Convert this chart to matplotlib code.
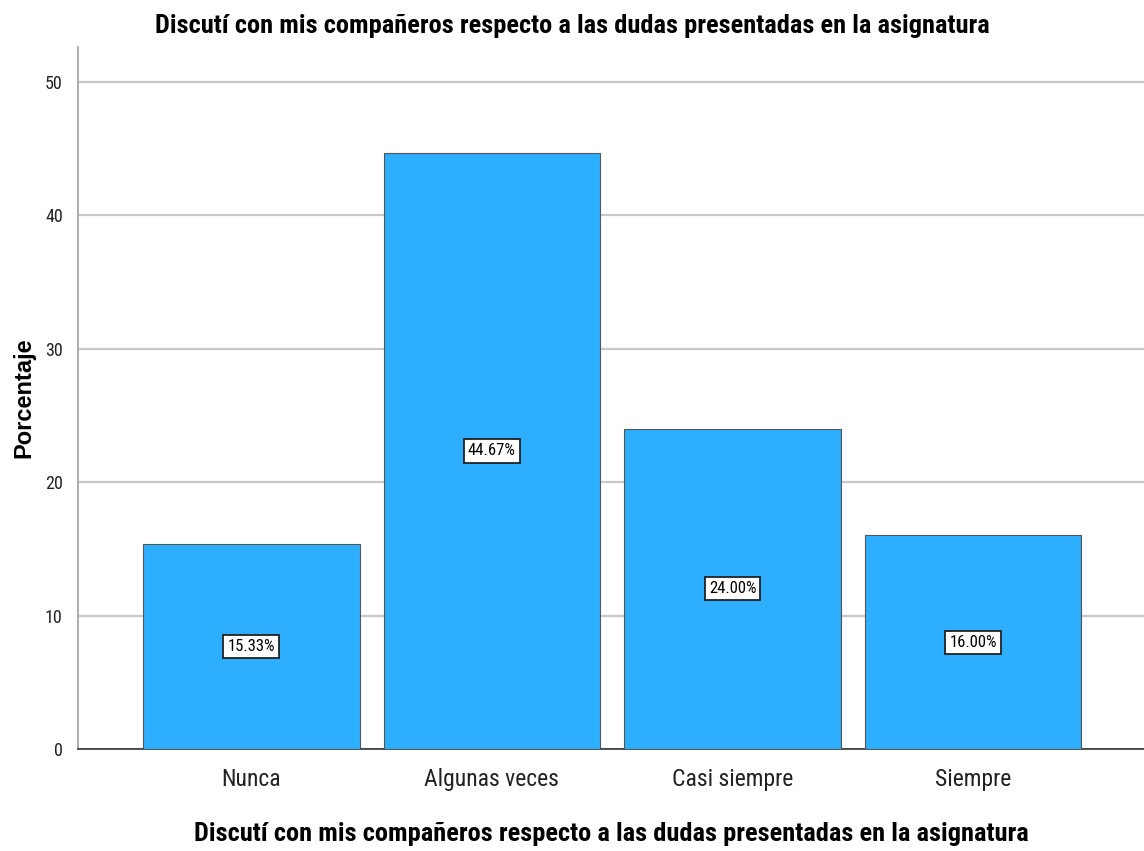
import matplotlib
matplotlib.use("Agg")
import matplotlib.pyplot as plt

# datos
categorias = ["Nunca", "Algunas veces", "Casi siempre", "Siempre"]
porcentajes = [15.33, 44.67, 24.00, 16.00]
etiquetas = ["15.33%", "44.67%", "24.00%", "16.00%"]
yticks = [0, 10, 20, 30, 40, 50]

titulo = "Discutí con mis compañeros respecto a las dudas presentadas en la asignatura"

narrow = ["Roboto Condensed", "DejaVu Sans"]
ancha = ["Liberation Sans", "DejaVu Sans"]

fig = plt.figure(figsize=(11.44, 8.51), dpi=100)
ax = fig.add_axes([0.0682, 0.1199, 0.9318, 0.8249])

x = range(len(categorias))
ax.bar(x, porcentajes, width=0.9, color="#2EAEFF", edgecolor="#555555", linewidth=0.8, zorder=3)

# etiquetas con recuadro blanco en la mitad de cada barra
for xi, val, txt in zip(x, porcentajes, etiquetas):
    ax.text(xi, val / 2, txt, ha="center", va="center", fontsize=12, family=narrow,
            bbox=dict(boxstyle="square,pad=0.25", facecolor="white", edgecolor="#222222", linewidth=1.3),
            zorder=4)

ax.set_xlim(-0.72, 3.71)
ax.set_ylim(0, 52.6)
ax.set_yticks(yticks)
ax.set_yticklabels([str(t) for t in yticks], fontsize=13, family=narrow, color="#222222")
ax.set_xticks(list(x))
ax.set_xticklabels(categorias, fontsize=17, family=narrow, color="#222222")
ax.tick_params(axis="x", length=0, pad=14)
ax.tick_params(axis="y", length=0, pad=11)

ax.grid(axis="y", color="#c8c8c8", linewidth=1.6, zorder=0)
ax.spines["top"].set_visible(False)
ax.spines["right"].set_visible(False)
ax.spines["left"].set_color("#a0a0a0")
ax.spines["left"].set_linewidth(1.2)
ax.spines["bottom"].set_color("#333333")
ax.spines["bottom"].set_linewidth(1.2)

ax.set_xlabel(titulo, fontsize=19, fontweight="bold", family=narrow, labelpad=22)
fig.text(0.5, 0.969, titulo, ha="center", va="center", fontsize=19, fontweight="bold", family=narrow)
fig.text(0.021, 0.533, "Porcentaje", ha="center", va="center", rotation=90,
         fontsize=17, fontweight="bold", family=ancha)

fig.savefig("out.png", dpi=100)
